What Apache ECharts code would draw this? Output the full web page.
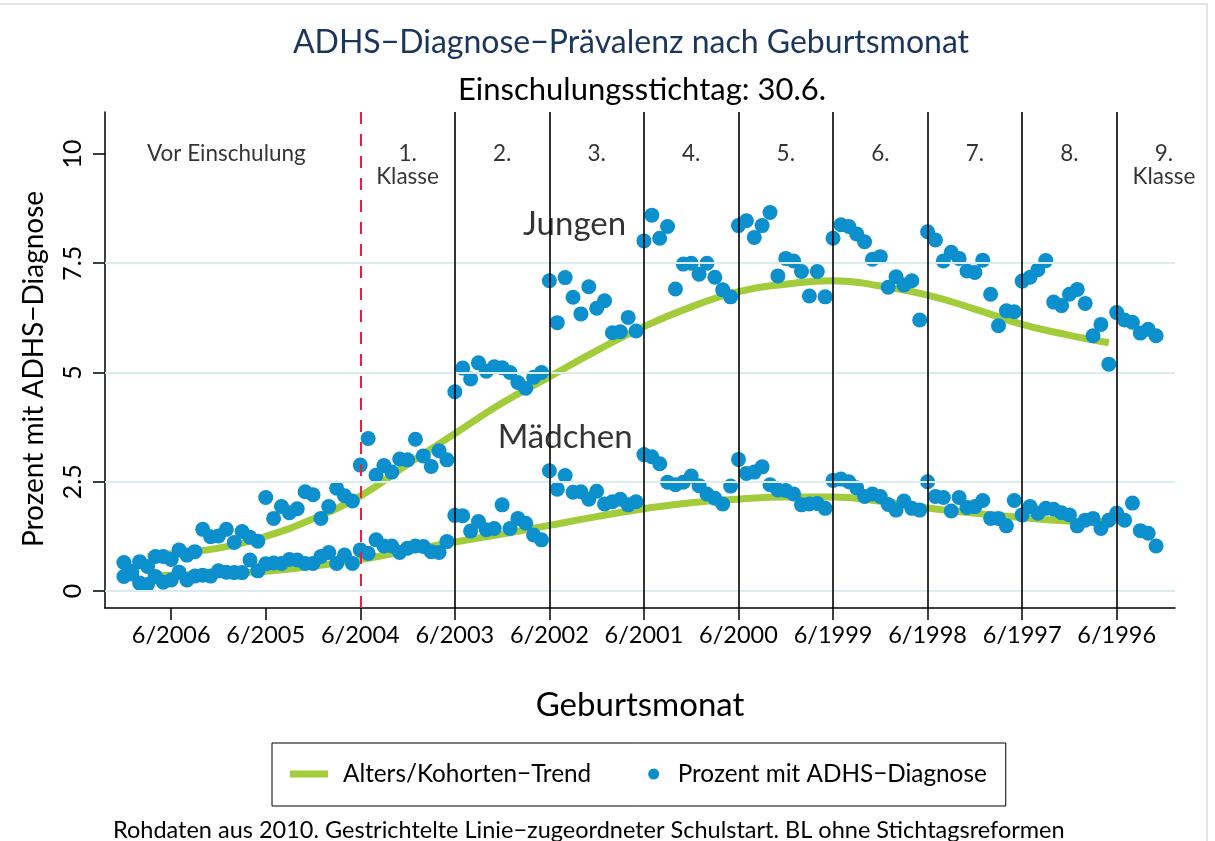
<!DOCTYPE html>
<html><head><meta charset="utf-8">
<script src="https://cdn.jsdelivr.net/npm/echarts@6/dist/echarts.min.js"></script>
<style>html,body{margin:0;padding:0;background:#fff}#c{width:1215px;height:841px}</style>
</head><body><div id="c"></div>
<script>
// x = months before 6/2006 (birth month); -6 = 12/2006 ... 125 = 1/1996
const monthOffsets = [];
for (let m = -6; m <= 125; m++) monthOffsets.push(m);

const boys = [
 0.65,0.45,0.67,0.56,0.79,0.79,0.72,0.94,0.82,0.90,1.41,1.24,1.26,1.41,1.11,1.36,1.23,1.14,
 2.14,1.66,1.93,1.79,1.88,2.27,2.20,1.66,1.93,2.35,2.18,2.06,
 2.88,3.49,2.65,2.87,2.72,3.02,3.00,3.47,3.09,2.85,3.21,3.00,
 4.56,5.10,4.85,5.22,5.03,5.13,5.11,5.00,4.77,4.64,4.89,5.00,
 7.10,6.14,7.17,6.72,6.34,6.96,6.47,6.64,5.91,5.93,6.26,5.95,
 8.01,8.60,8.07,8.34,6.91,7.48,7.50,7.25,7.50,7.18,6.89,6.73,
 8.36,8.47,8.09,8.36,8.66,7.21,7.61,7.55,7.31,6.75,7.31,6.73,
 8.07,8.38,8.34,8.17,7.99,7.59,7.65,6.95,7.19,7.00,7.10,6.20,
 8.22,8.03,7.55,7.75,7.61,7.32,7.29,7.57,6.79,6.07,6.41,6.39,
 7.09,7.18,7.35,7.56,6.61,6.53,6.79,6.90,6.58,5.84,6.10,5.19,
 6.37,6.20,6.15,5.90,5.99,5.84
];
const girls = [
 0.33,0.39,0.18,0.15,0.33,0.20,0.25,0.43,0.25,0.34,0.36,0.34,0.46,0.43,0.42,0.42,0.71,0.46,
 0.62,0.64,0.63,0.72,0.71,0.63,0.63,0.79,0.88,0.63,0.82,0.63,
 0.94,0.86,1.17,1.03,1.03,0.88,0.98,1.03,1.02,0.90,0.88,1.13,
 1.73,1.72,1.37,1.59,1.40,1.43,1.97,1.43,1.66,1.55,1.28,1.17,
 2.75,2.33,2.64,2.26,2.27,2.10,2.28,1.99,2.04,2.10,1.97,2.04,
 3.12,3.07,2.91,2.49,2.43,2.49,2.63,2.41,2.22,2.12,1.99,2.40,
 3.01,2.69,2.72,2.84,2.43,2.31,2.30,2.22,1.97,1.99,2.00,1.89,
 2.53,2.56,2.50,2.36,2.16,2.22,2.16,1.98,1.85,2.06,1.89,1.85,
 2.50,2.16,2.14,1.83,2.14,1.91,1.93,2.07,1.66,1.66,1.49,2.07,
 1.74,1.93,1.78,1.89,1.87,1.79,1.74,1.49,1.62,1.66,1.43,1.62,
 1.78,1.62,2.01,1.38,1.32,1.03
];

const trendMonths = [-3,0,6,12,18,24,30,36,42,48,54,60,66,72,78,84,90,96,102,108,114,119];
const trendBoys  = [0.78,0.85,0.98,1.25,1.65,2.17,2.9,3.6,4.3,4.9,5.5,6.05,6.5,6.85,7.02,7.1,6.98,6.77,6.45,6.1,5.85,5.68];
const trendGirls = [0.33,0.36,0.40,0.45,0.57,0.72,0.92,1.12,1.30,1.50,1.70,1.88,2.02,2.10,2.15,2.15,2.05,1.90,1.78,1.68,1.60,1.58];

const xTickValues = [0,12,24,36,48,60,72,84,96,108,120];
const xTickLabels = ['6/2006','6/2005','6/2004','6/2003','6/2002','6/2001','6/2000','6/1999','6/1998','6/1997','6/1996'];
const yTickValues = [0,2.5,5,7.5,10];
const yTickLabels = ['0','2.5','5','7.5','10'];
const gridValues = [0,2.5,5,7.5];

const schoolStartLine = 24;
const gradeLines = [36,48,60,72,84,96,108,120];
const gradeLabelX = [7,30,42,54,66,78,90,102,114,126];
const gradeLabels = ['Vor Einschulung','1.\nKlasse','2.','3.','4.','5.','6.','7.','8.','9.\nKlasse'];
const groupLabels = [['Jungen', 51.2, 8.4], ['Mädchen', 50.0, 3.52]];

const FONT = 'Lato';
const GREEN = '#a2cc3a';
const BLUE = '#0b8fcd';

const chart = echarts.init(document.getElementById('c'), null, {renderer: 'canvas'});
const pairs = (xs, ys) => xs.map((x, i) => [x, ys[i]]);

chart.setOption({
  animation: false,
  backgroundColor: '#fff',
  graphic: [
    {type: 'polyline', silent: true, z: -1,
     shape: {points: [[0, 4], [1207, 4], [1207, 841]]},
     style: {stroke: '#e3e3e3', lineWidth: 2, fill: null}}
  ],
  title: [
    {text: 'ADHS−Diagnose−Prävalenz nach Geburtsmonat', left: 626, top: 22, textAlign: 'center',
     textStyle: {fontFamily: FONT, fontSize: 32, fontWeight: 'normal', color: '#1b365d'}},
    {text: 'Einschulungsstichtag: 30.6.', left: 637, top: 69, textAlign: 'center',
     textStyle: {fontFamily: FONT, fontSize: 31, fontWeight: 'normal', color: '#000'}},
    {text: 'Rohdaten aus 2010. Gestrichtelte Linie−zugeordneter Schulstart. BL ohne Stichtagsreformen', left: 108, top: 813,
     textStyle: {fontFamily: FONT, fontSize: 23.5, fontWeight: 'normal', color: '#000'}}
  ],
  grid: {left: 105, right: 40, top: 112, bottom: 233, containLabel: false},
  xAxis: {
    type: 'value', min: -8.4, max: 127.4,
    name: 'Geburtsmonat', nameLocation: 'middle', nameGap: 81,
    nameTextStyle: {fontFamily: FONT, fontSize: 33, color: '#000'},
    axisLine: {onZero: false, lineStyle: {color: '#000', width: 1.5}},
    axisTick: {customValues: xTickValues, length: 12, lineStyle: {color: '#000', width: 1.5}},
    axisLabel: {customValues: xTickValues, margin: 15, fontFamily: FONT, fontSize: 23.5, color: '#000',
      formatter: v => xTickLabels[xTickValues.indexOf(Math.round(v))] || ''},
    splitLine: {show: false}
  },
  yAxis: {
    type: 'value', min: -0.39, max: 10.96,
    name: 'Prozent mit ADHS−Diagnose', nameLocation: 'middle', nameGap: 57,
    nameTextStyle: {fontFamily: FONT, fontSize: 28, color: '#000', padding: [0, 18, 0, 0]},
    axisLine: {onZero: false, lineStyle: {color: '#000', width: 1.5}},
    axisTick: {customValues: yTickValues, length: 12, lineStyle: {color: '#000', width: 1.5}},
    axisLabel: {customValues: yTickValues, rotate: 90, margin: 20, fontFamily: FONT, fontSize: 25, color: '#000',
      formatter: v => yTickLabels[yTickValues.indexOf(v)] || ''},
    splitLine: {show: false}
  },
  legend: {
    left: 272, top: 743, orient: 'horizontal', selectedMode: false,
    borderColor: '#000', borderWidth: 1, padding: [19, 19, 20, 18],
    itemWidth: 38, itemHeight: 11, itemGap: 57,
    textStyle: {fontFamily: FONT, fontSize: 24.3, color: '#000'},
    data: [
      {name: 'Alters/Kohorten−Trend', icon: 'path://M0,0H38V7H0Z', textStyle: {padding: [0, 0, 0, 10]}},
      {name: 'Prozent mit ADHS−Diagnose', icon: 'circle'}
    ]
  },
  series: [
    {
      name: 'grid', type: 'line', data: [], silent: true,
      markLine: {
        silent: true, symbol: ['none', 'none'], label: {show: false}, animation: false,
        data: [
          ...gridValues.map(v => ({yAxis: v, lineStyle: {color: '#dcedf0', width: 2, type: 'solid'}})),
          ...gradeLines.map(v => ({xAxis: v, lineStyle: {color: '#000', width: 1.6, type: 'solid'}})),
          {xAxis: schoolStartLine, lineStyle: {color: '#e8203f', width: 2, type: [12, 10]}}
        ]
      }
    },
    {name: 'Alters/Kohorten−Trend', type: 'line', smooth: true, showSymbol: false, symbol: 'none',
     data: pairs(trendMonths, trendBoys), itemStyle: {color: GREEN}, lineStyle: {color: GREEN, width: 7}, z: 3},
    {name: 'Alters/Kohorten−Trend', type: 'line', smooth: true, showSymbol: false, symbol: 'none',
     data: pairs(trendMonths, trendGirls), itemStyle: {color: GREEN}, lineStyle: {color: GREEN, width: 7}, z: 3},
    {name: 'Prozent mit ADHS−Diagnose', type: 'scatter', symbolSize: 15,
     data: pairs(monthOffsets, boys), itemStyle: {color: BLUE, opacity: 1}, z: 4},
    {name: 'Prozent mit ADHS−Diagnose', type: 'scatter', symbolSize: 15,
     data: pairs(monthOffsets, girls), itemStyle: {color: BLUE, opacity: 1}, z: 4},
    {name: 'gradeText', type: 'scatter', symbolSize: 0, silent: true, z: 5,
     data: gradeLabelX.map((x, i) => [x, 10, gradeLabels[i]]),
     label: {show: true, position: 'inside', align: 'center', verticalAlign: 'top', offset: [0, -12],
       formatter: p => p.data[2], fontFamily: FONT, fontSize: 22.5, lineHeight: 23, color: '#000'}},
    {name: 'groupText', type: 'scatter', symbolSize: 0, silent: true, z: 5,
     data: groupLabels.map(g => [g[1], g[2], g[0]]),
     label: {show: true, position: 'inside', align: 'center', verticalAlign: 'middle',
       formatter: p => p.data[2], fontFamily: FONT, fontSize: 33, color: '#000'}}
  ]
});
</script></body></html>
